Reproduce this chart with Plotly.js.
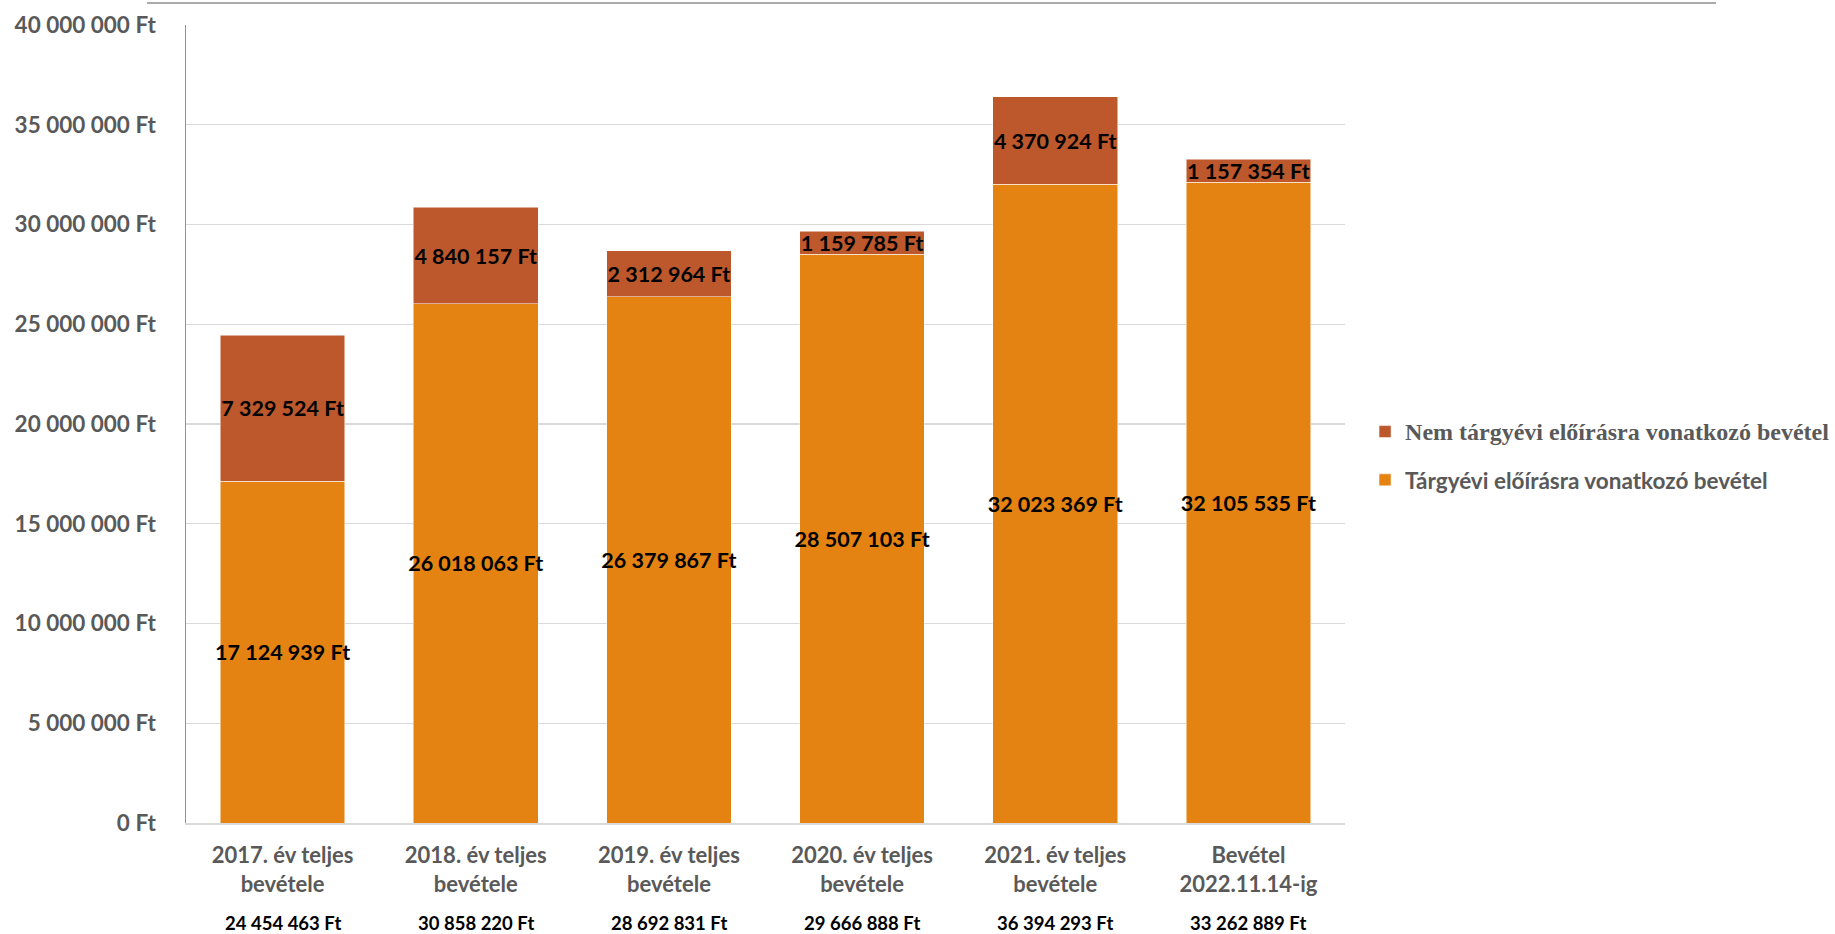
<!DOCTYPE html>
<html>
<head>
<meta charset="utf-8">
<script src="https://cdn.plot.ly/plotly-3.0.1.min.js"></script>
<style>
  html, body { margin: 0; padding: 0; background: #fff; }
  #chart { width: 1835px; height: 934px; }
</style>
</head>
<body>
<div id="chart"></div>
<script>
// ---- data ----
const categories = [
  "2017. év teljes<br>bevétele",
  "2018. év teljes<br>bevétele",
  "2019. év teljes<br>bevétele",
  "2020. év teljes<br>bevétele",
  "2021. év teljes<br>bevétele",
  "Bevétel<br>2022.11.14-ig"
];
const targyevi = [17124939, 26018063, 26379867, 28507103, 32023369, 32105535];
const nemTargyevi = [7329524, 4840157, 2312964, 1159785, 4370924, 1157354];
const seriesNames = ["Tárgyévi előírásra vonatkozó bevétel", "Nem tárgyévi előírásra vonatkozó bevétel"];
const yTicks = [0, 5000000, 10000000, 15000000, 20000000, 25000000, 30000000, 35000000, 40000000];

const fmtFt = v => String(Math.round(v)).replace(/\B(?=(\d{3})+(?!\d))/g, " ") + " Ft";
const yTickText = yTicks.map(fmtFt);
const totals = targyevi.map((v, i) => v + nemTargyevi[i]);

const ORANGE = "#E48312";
const RUST = "#BD582C";
const GRAY = "#595959";
const SANS = "Lato, 'Open Sans', sans-serif";

const labelFont = { family: SANS, size: 21.5, color: "#000000", weight: 700 };

const traces = [
  {
    type: "bar",
    name: seriesNames[0],
    legendgroup: "a",
    legendrank: 2,
    x: categories,
    y: targyevi,
    marker: { color: ORANGE, line: { color: "#ffffff", width: 0.5 } },
    texttemplate: "%{y:,.0f} Ft",
    textposition: "inside",
    insidetextanchor: "middle",
    textangle: 0,
    constraintext: "none",
    textfont: labelFont,
    hoverinfo: "skip"
  },
  {
    type: "bar",
    name: "<span style=\"font-family:'Liberation Serif','Times New Roman',serif;font-size:24px\">" + seriesNames[1] + "</span>",
    legendgroup: "b",
    legendrank: 1,
    x: categories,
    y: nemTargyevi,
    marker: { color: RUST, line: { color: "#ffffff", width: 0.5 } },
    texttemplate: "%{y:,.0f} Ft",
    textposition: "inside",
    insidetextanchor: "middle",
    textangle: 0,
    constraintext: "none",
    textfont: labelFont,
    hoverinfo: "skip"
  }
];

const annotations = totals.map((t, i) => ({
  xref: "x",
  yref: "paper",
  x: categories[i],
  y: -0.1253,
  yanchor: "middle",
  xanchor: "center",
  showarrow: false,
  text: fmtFt(t),
  font: { family: SANS, size: 18.5, color: "#000000", weight: 700 }
}));

const layout = {
  width: 1835,
  height: 934,
  margin: { l: 186, r: 490, t: 25, b: 111, pad: 0, autoexpand: false },
  paper_bgcolor: "#ffffff",
  plot_bgcolor: "#ffffff",
  separators: ", ",
  barmode: "stack",
  bargap: 0.355,
  showlegend: true,
  legend: {
    xref: "container",
    yref: "container",
    x: 0.7439,
    xanchor: "left",
    y: 0.5118,
    yanchor: "middle",
    traceorder: "grouped",
    tracegroupgap: 16,
    font: { family: SANS, size: 22.5, color: GRAY, weight: 700 },
    bgcolor: "rgba(0,0,0,0)"
  },
  xaxis: {
    type: "category",
    showgrid: false,
    showline: true,
    linecolor: "#D9D9D9",
    linewidth: 1.5,
    ticks: "",
    ticklabelstandoff: 12,
    tickfont: { family: SANS, size: 22, color: GRAY, weight: 700 },
    fixedrange: true
  },
  yaxis: {
    range: [0, 40000000],
    tickmode: "array",
    tickvals: yTicks,
    ticktext: yTickText,
    showgrid: true,
    gridcolor: "#D9D9D9",
    gridwidth: 1.25,
    zeroline: false,
    showline: true,
    linecolor: ORANGE,
    linewidth: 1.5,
    ticks: "",
    ticklabelstandoff: 24,
    tickfont: { family: SANS, size: 22.5, color: GRAY, weight: 700 },
    fixedrange: true
  },
  shapes: [
    {
      type: "line",
      xref: "paper",
      yref: "paper",
      x0: -0.0337,
      x1: 1.3201,
      y0: 1.0276,
      y1: 1.0276,
      line: { color: "#8F8F8F", width: 1.5 }
    }
  ],
  annotations: annotations
};

Plotly.newPlot("chart", traces, layout, { displayModeBar: false, staticPlot: true });
</script>
</body>
</html>
